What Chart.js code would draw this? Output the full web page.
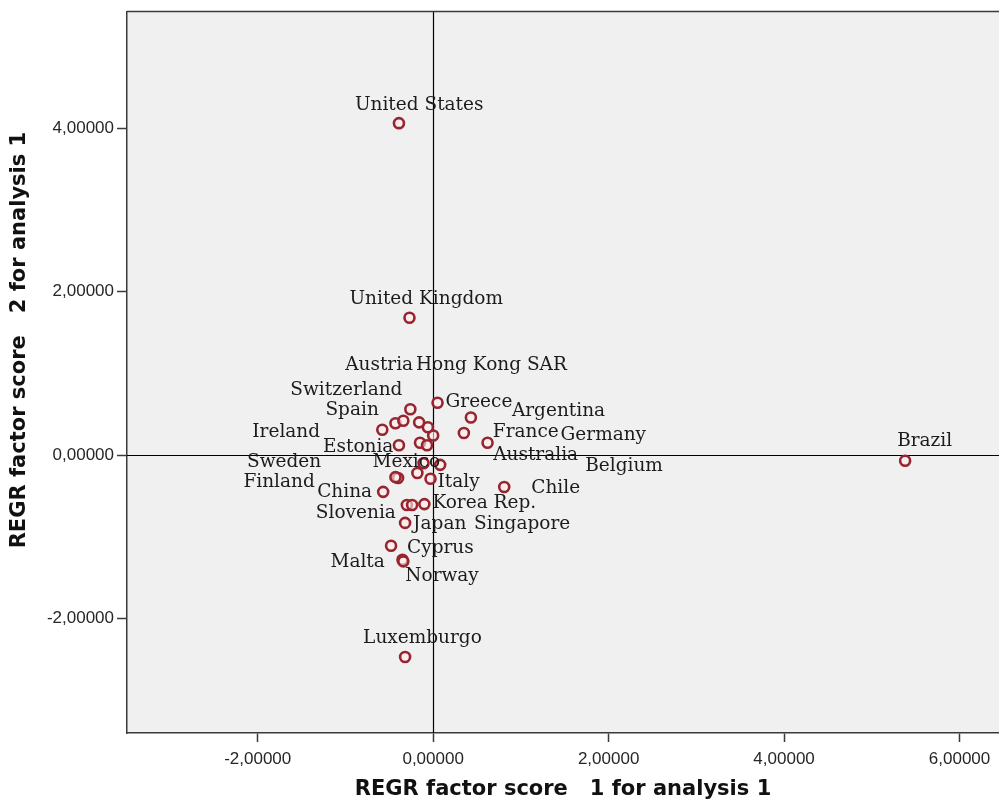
<!DOCTYPE html>
<html>
<head>
<meta charset="utf-8">
<script src="https://cdn.jsdelivr.net/npm/chart.js@4/dist/chart.umd.min.js"></script>
<style>
  html, body { margin: 0; padding: 0; background: #ffffff; }
  #wrap { width: 999px; height: 803px; }
</style>
</head>
<body>
<div id="wrap"><canvas id="c" width="999" height="803"></canvas></div>
<script>
// Factor scores per country (regression method)
const countries = [
  'United States', 'United Kingdom', 'Brazil', 'Luxemburgo', 'Greece', 'Argentina',
  'France', 'Germany', 'Australia', 'Belgium', 'Chile', 'Hong Kong SAR', 'Austria',
  'Switzerland', 'Spain', 'Ireland', '', 'Estonia', '', '', 'Mexico', '', 'Italy',
  'Sweden', 'Finland', 'China', 'Slovenia', 'Singapore', 'Korea Rep.', 'Japan',
  'Cyprus', 'Malta', 'Norway'
];
const factor1 = [
  -0.39, -0.27, 5.38, -0.32, 0.05, 0.43,
  0.35, 0.62, 0.00, 0.08, 0.81, -0.06, -0.16,
  -0.26, -0.43, -0.58, -0.34, -0.39, -0.15, -0.07, -0.11, -0.18, -0.03,
  -0.40, -0.43, -0.57, -0.30, -0.24, -0.10, -0.32,
  -0.48, -0.35, -0.34
];
const factor2 = [
  4.06, 1.68, -0.07, -2.47, 0.64, 0.46,
  0.27, 0.15, 0.24, -0.12, -0.39, 0.34, 0.40,
  0.56, 0.39, 0.31, 0.42, 0.12, 0.15, 0.12, -0.10, -0.22, -0.29,
  -0.28, -0.27, -0.45, -0.61, -0.61, -0.60, -0.83,
  -1.11, -1.28, -1.30
];
const xTicks = [-2, 0, 2, 4, 6];
const yTicks = [-2, 0, 2, 4];
const xTitle = 'REGR factor score   1 for analysis 1';
const yTitle = 'REGR factor score   2 for analysis 1';

// Where each country name sits, in pixels from its marker:
// [left edge of the text, vertical middle of the text]
const labelOffset = [
  [-44, -18], [-60, -19], [-8, -20], [-42, -19], [8, -1], [41, -6],
  [29, -1], [73, -8], [60, 20], [145, 1], [27, 1], [-12, -62], [-74, -57],
  [-120, -19], [-70, -13], [-130, 2], [0, 0], [-76, 2], [0, 0], [0, 0], [-51, -1], [0, 0], [7, 3],
  [-151, -16], [-152, 5], [-66, 0], [-91, 8], [62, 19], [8, -1], [8, 1],
  [16, 2], [-72, 2], [2, 15]
];

const points = factor1.map((x, i) => ({ x: x, y: factor2[i] }));
const fmt = v => Number(v).toFixed(5).replace('.', ',');

const frameColor = '#3a3a3a';
const titleFont = 'bold 21px "DejaVu Sans", sans-serif';

const plotFrame = {
  id: 'plotFrame',
  beforeDraw(chart) {
    const { ctx, chartArea: a } = chart;
    ctx.save();
    ctx.fillStyle = '#f0f0f0';
    ctx.fillRect(a.left, a.top, a.right - a.left, a.bottom - a.top);
    ctx.restore();
  },
  beforeDatasetsDraw(chart) {
    const { ctx, chartArea: a, scales } = chart;
    const x0 = Math.round(scales.x.getPixelForValue(0)) + 0.5;
    const y0 = Math.round(scales.y.getPixelForValue(0)) + 0.5;
    ctx.save();
    ctx.strokeStyle = '#000000';
    ctx.lineWidth = 1.2;
    ctx.beginPath();
    ctx.moveTo(x0, a.top); ctx.lineTo(x0, a.bottom);
    ctx.moveTo(a.left, y0); ctx.lineTo(a.right, y0);
    ctx.stroke();
    // top edge of the frame
    ctx.strokeStyle = frameColor;
    ctx.lineWidth = 1.5;
    ctx.beginPath();
    ctx.moveTo(a.left, a.top - 0.5); ctx.lineTo(a.right, a.top - 0.5);
    ctx.stroke();
    ctx.restore();
  },
  afterDatasetsDraw(chart) {
    const { ctx, chartArea: a } = chart;
    const meta = chart.getDatasetMeta(0);
    ctx.save();
    ctx.font = '18.5px "DejaVu Serif"';
    ctx.fillStyle = '#1c1c1c';
    ctx.textAlign = 'left';
    ctx.textBaseline = 'middle';
    meta.data.forEach((el, i) => {
      const name = countries[i];
      if (!name) return;
      const [dx, dy] = labelOffset[i];
      ctx.fillText(name, el.x + dx, el.y + dy);
    });
    ctx.restore();

    // vertical axis title, set a little above the middle of the plot
    ctx.save();
    ctx.translate(20, a.top + (a.bottom - a.top) * 0.455);
    ctx.rotate(-Math.PI / 2);
    ctx.font = titleFont;
    ctx.fillStyle = '#111111';
    ctx.textAlign = 'center';
    ctx.textBaseline = 'middle';
    ctx.fillText(yTitle, 0, 0);
    ctx.restore();
  }
};

new Chart(document.getElementById('c'), {
  type: 'scatter',
  data: {
    datasets: [{
      data: points,
      pointStyle: 'circle',
      pointRadius: 5,
      pointHoverRadius: 5,
      pointBorderWidth: 2.6,
      borderColor: '#98242f',
      pointBorderColor: '#98242f',
      pointBackgroundColor: 'rgba(255,235,235,0.6)'
    }]
  },
  options: {
    responsive: false,
    animation: false,
    devicePixelRatio: 1,
    layout: { autoPadding: false, padding: { top: 12, right: 0, bottom: 0, left: 0 } },
    plugins: {
      legend: { display: false },
      tooltip: { enabled: false },
      title: { display: false }
    },
    scales: {
      x: {
        type: 'linear',
        position: 'bottom',
        min: -3.49,
        max: 6.45,
        afterFit(scale) { scale.height = 70; scale.paddingRight = 0; scale.paddingLeft = 0; },
        afterBuildTicks(scale) { scale.ticks = xTicks.map(v => ({ value: v })); },
        grid: { drawOnChartArea: false, drawTicks: true, tickLength: 9, tickColor: frameColor, tickWidth: 1.5 },
        border: { display: true, color: frameColor, width: 1.5 },
        ticks: {
          padding: 7,
          color: '#262626',
          font: { family: '"Liberation Sans", Arial, sans-serif', size: 17 },
          callback: v => fmt(v),
          maxRotation: 0,
          autoSkip: false
        },
        title: {
          display: true,
          text: xTitle,
          color: '#111111',
          font: { family: '"DejaVu Sans", sans-serif', size: 21, weight: 'bold' },
          padding: { top: 0, bottom: 1 }
        }
      },
      y: {
        type: 'linear',
        position: 'left',
        min: -3.40,
        max: 5.42,
        afterFit(scale) { scale.width = 127; scale.paddingTop = 0; scale.paddingBottom = 0; },
        afterBuildTicks(scale) { scale.ticks = yTicks.map(v => ({ value: v })); },
        grid: { drawOnChartArea: false, drawTicks: true, tickLength: 10, tickColor: frameColor, tickWidth: 1.5 },
        border: { display: true, color: frameColor, width: 1.5 },
        ticks: {
          padding: 3,
          color: '#262626',
          font: { family: '"Liberation Sans", Arial, sans-serif', size: 17 },
          callback: v => fmt(v),
          autoSkip: false
        },
        title: { display: false }
      }
    }
  },
  plugins: [plotFrame]
});
</script>
</body>
</html>
